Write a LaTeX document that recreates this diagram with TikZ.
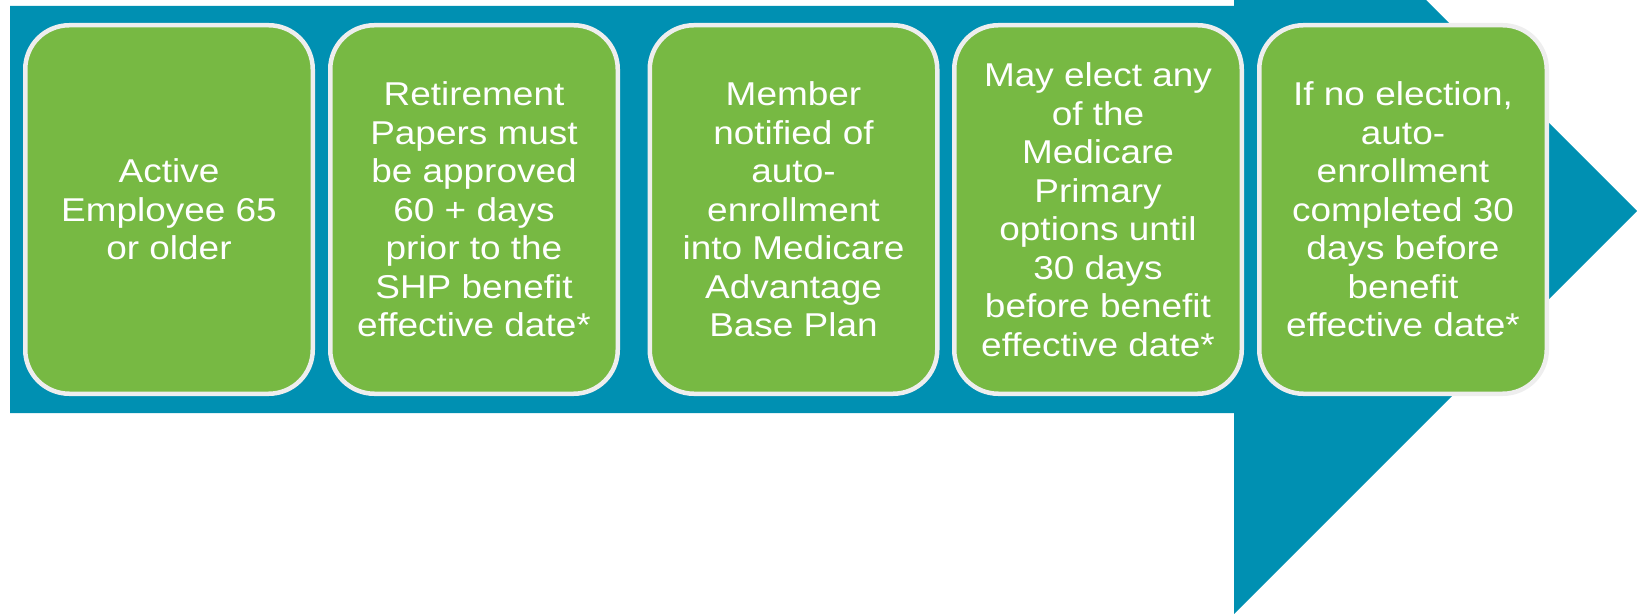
\documentclass[tikz,border=0pt]{standalone}
\usepackage{fontspec}
\setmainfont{Liberation Sans}[FakeStretch=1.12]
\definecolor{arrowteal}{RGB}{0,144,178}
\definecolor{stepgreen}{RGB}{119,185,67}
\definecolor{stepedge}{RGB}{238,238,238}
\begin{document}
\begin{tikzpicture}[x=0.5pt,y=-0.5pt,
  stepbox/.style={draw=stepedge,line width=2.25pt,fill=stepgreen,rounded corners=22pt,
    minimum width=143.75pt,minimum height=184.25pt,inner sep=0pt,align=center,text=white,
    font=\fontsize{16.5}{19.25}\selectfont}]
\useasboundingbox (0,0) rectangle (1637,614);
\clip (0,0) rectangle (1637,614);
\fill[arrowteal] (10,6) -- (1234,6) -- (1234,-192) -- (1637,211) -- (1234,614) -- (1234,413) -- (10,413) -- cycle;
\node[stepbox] (active) at (169,209.5) {Active\\Employee 65\\or older};
\node[stepbox] (papers) at (474,209.5) {Retirement\\Papers must\\be approved\\60 + days\\prior to the\\SHP benefit\\effective date*};
\node[stepbox] (notified) at (793.5,209.5) {Member\\notified of\\auto-\\enrollment\\into Medicare\\Advantage\\Base Plan};
\node[stepbox] (elect) at (1098,209.5) {May elect any\\of the\\Medicare\\Primary\\options until\\30 days\\before benefit\\effective date*};
\node[stepbox] (auto) at (1403,209.5) {If no election,\\auto-\\enrollment\\completed 30\\days before\\benefit\\effective date*};
\end{tikzpicture}
\end{document}
